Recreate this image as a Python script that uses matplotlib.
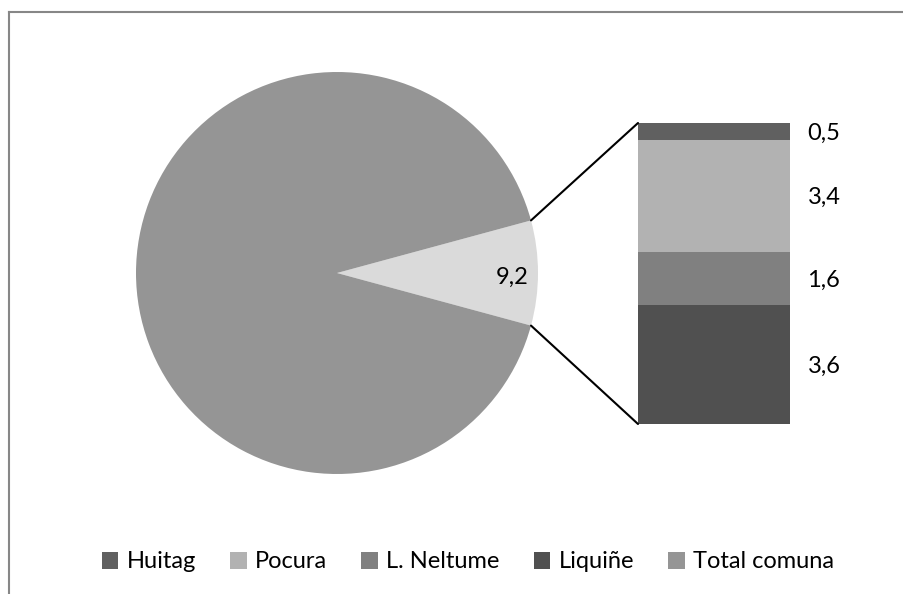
import numpy as np
import matplotlib.pyplot as plt
from matplotlib.patches import ConnectionPatch, Patch
from matplotlib.lines import Line2D
import matplotlib.transforms as mtransforms

plt.rcParams['font.family'] = ['Lato', 'DejaVu Sans']
plt.rcParams['font.size'] = 17

# data
bar_names = ['Huitag', 'Pocura', 'L. Neltume', 'Liquiñe']
bar_values = [0.5, 3.4, 1.6, 3.6]
bar_labels = ['0,5', '3,4', '1,6', '3,6']
bar_colors = ['#606060', '#b2b2b2', '#808080', '#505050']

pie_names = ['Otros', 'Total comuna']
pie_values = [9.2, 100]
pie_labels = ['9,2', '']
pie_colors = ['#dadada', '#959595']

W, H = 904, 594
fig = plt.figure(figsize=(W / 100, H / 100), dpi=100)


def px(x0, y0, x1, y1):
    # pixel box (top-left origin) -> figure fraction rect
    return [x0 / W, 1 - y1 / H, (x1 - x0) / W, (y1 - y0) / H]


# pie
ax1 = fig.add_axes(px(136, 72, 538, 474))
angle = 360 * pie_values[0] / sum(pie_values)
wedges, _ = ax1.pie(pie_values, colors=pie_colors, startangle=-angle / 2,
                    wedgeprops=dict(linewidth=0))
ax1.set_xlim(-1, 1)
ax1.set_ylim(-1, 1)
for w, lab in zip(wedges, pie_labels):
    if lab:
        mid = np.deg2rad((w.theta1 + w.theta2) / 2)
        ax1.text(0.87 * np.cos(mid), 0.87 * np.sin(mid) - 0.02, lab,
                 ha='center', va='center')

# stacked bar
ax2 = fig.add_axes(px(638, 123, 790, 424))
total = sum(bar_values)
trans = mtransforms.blended_transform_factory(ax2.transAxes, ax2.transData)
bottom = 0
for name, val, lab, col in reversed(list(zip(bar_names, bar_values, bar_labels, bar_colors))):
    ax2.bar(0, val, width=1, bottom=bottom, color=col, linewidth=0)
    ax2.text(1.115, bottom + val / 2 - 0.06, lab, transform=trans, ha='left', va='center')
    bottom += val
ax2.set_xlim(-0.5, 0.5)
ax2.set_ylim(0, total)
ax2.axis('off')

# connector lines
w0 = wedges[0]
for th, yb in [(w0.theta2, total), (w0.theta1, 0)]:
    t = np.deg2rad(th)
    con = ConnectionPatch(xyA=(np.cos(t), np.sin(t)), coordsA=ax1.transData,
                          xyB=(-0.5, yb), coordsB=ax2.transData,
                          color='black', lw=1.5)
    fig.add_artist(con)

# legend
handles = [Patch(facecolor=c, linewidth=0) for c in bar_colors + [pie_colors[1]]]
labels = bar_names + [pie_names[1]]
fig.legend(handles, labels, ncol=5, frameon=False, loc='center',
           bbox_to_anchor=(468 / W, 1 - 562 / H),
           handlelength=0.7, handleheight=0.7, handletextpad=0.35,
           columnspacing=1.45)

# chart frame (cropped: only left and top edges visible)
fig.add_artist(Line2D([8.5 / W, 8.5 / W], [0, 1 - 12 / H], transform=fig.transFigure,
                      color='#878787', lw=1.5))
fig.add_artist(Line2D([8.5 / W, 1], [1 - 12 / H, 1 - 12 / H], transform=fig.transFigure,
                      color='#878787', lw=1.5))

fig.savefig('out.png', dpi=100)
